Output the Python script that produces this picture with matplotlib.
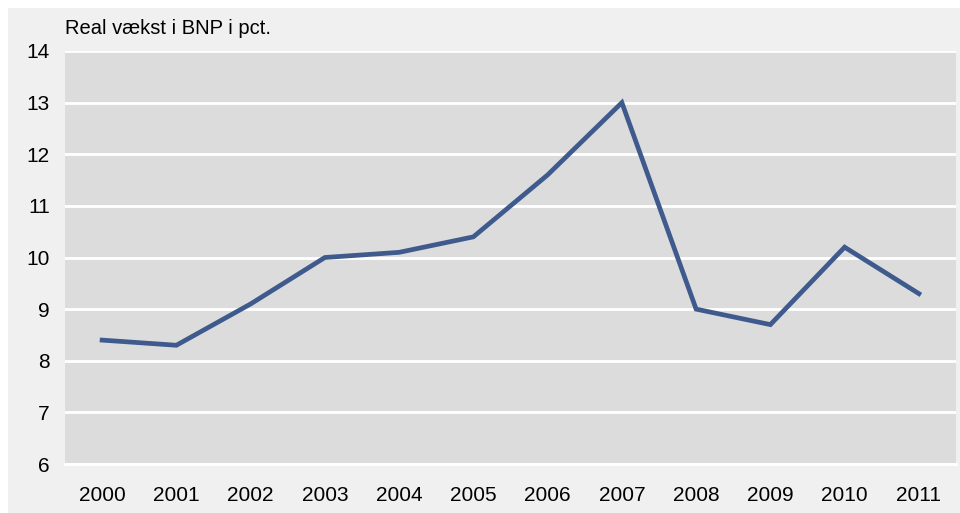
import matplotlib
matplotlib.use("Agg")
import matplotlib.pyplot as plt
from matplotlib.patches import Rectangle

years = ["2000", "2001", "2002", "2003", "2004", "2005", "2006", "2007", "2008", "2009", "2010", "2011"]
growth = [8.4, 8.3, 9.1, 10.0, 10.1, 10.4, 11.6, 13.0, 9.0, 8.7, 10.2, 9.3]
yticks = [6, 7, 8, 9, 10, 11, 12, 13, 14]
title = "Real vækst i BNP i pct."

plt.rcParams['font.family'] = ['Liberation Sans', 'DejaVu Sans']

W, H = 960, 513
fig = plt.figure(figsize=(W / 100, H / 100), dpi=100, facecolor='white')
fig.patches.append(Rectangle((8 / W, 0), (W - 8) / W, (H - 8) / H, transform=fig.transFigure,
                             facecolor='#f0f0f0', edgecolor='none', zorder=-10))

left, right = 65, 956
top, bottom = 51, 464
ax = fig.add_axes([left / W, 1 - bottom / H, (right - left) / W, (bottom - top) / H])
ax.set_facecolor('#dcdcdc')

x = list(range(len(years)))
ax.plot(x, growth, color='#3f5a8c', linewidth=3.4, solid_joinstyle='miter', zorder=3)

ax.set_xlim(-0.5, len(years) - 0.5)
ax.set_ylim(6, 14)
ax.set_yticks(yticks)
ax.set_yticklabels([str(t) for t in yticks])
ax.set_xticks(x)
ax.set_xticklabels(years)
ax.grid(axis='y', color='white', linewidth=2)
ax.set_axisbelow(True)
for s in ax.spines.values():
    s.set_visible(False)
ax.spines['bottom'].set_visible(True)
ax.spines['bottom'].set_color('white')
ax.spines['bottom'].set_linewidth(2)
ax.tick_params(axis='both', length=0, labelsize=15, colors='black')
ax.tick_params(axis='y', pad=11)
ax.tick_params(axis='x', pad=16)

fig.text(left / W, 1 - 28 / H, title, fontsize=14.5, ha='left', va='center')

fig.savefig('out.png', dpi=100, facecolor=fig.get_facecolor())
